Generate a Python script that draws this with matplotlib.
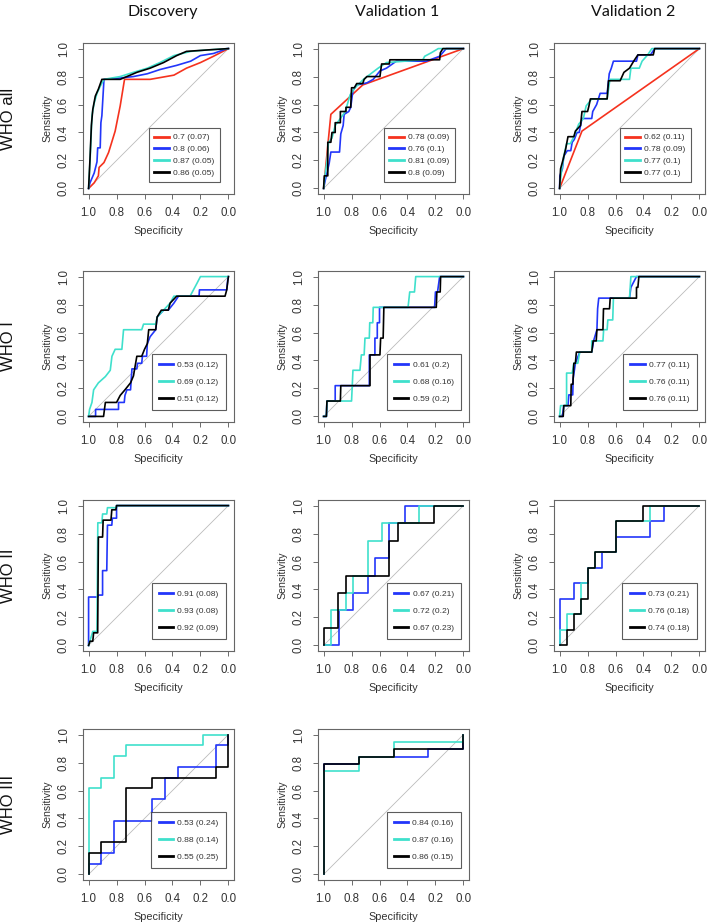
import matplotlib
matplotlib.use('Agg')
import matplotlib.pyplot as plt

plt.rcParams['font.family'] = ['Liberation Sans', 'DejaVu Sans']

columns = ['Discovery', 'Validation 1', 'Validation 2']
rows = ['WHO all', 'WHO I', 'WHO II', 'WHO III']

# each curve: (specificity, sensitivity) points
# --- WHO all ---
disc_all_red = [(1, 0), (0.96, 0.04), (0.93, 0.09), (0.925, 0.15), (0.89, 0.185), (0.857, 0.257), (0.81, 0.41),
                (0.774, 0.59), (0.743, 0.78), (0.56, 0.78), (0.39, 0.81), (0.30, 0.86), (0.20, 0.90), (0.107, 0.945), (0, 1)]
disc_all_blue = [(1, 0), (0.99, 0.04), (0.96, 0.11), (0.94, 0.19), (0.935, 0.29), (0.917, 0.29), (0.912, 0.47),
                 (0.905, 0.52), (0.89, 0.78), (0.77, 0.79), (0.68, 0.80), (0.58, 0.82), (0.49, 0.85), (0.37, 0.88),
                 (0.27, 0.91), (0.20, 0.95), (0.107, 0.965), (0.01, 1.0), (0, 1)]
disc_all_cyan = [(1, 0), (0.99, 0.19), (0.983, 0.35), (0.976, 0.52), (0.96, 0.61), (0.94, 0.68), (0.917, 0.73),
                 (0.89, 0.78), (0.774, 0.80), (0.68, 0.83), (0.58, 0.86), (0.49, 0.90), (0.39, 0.95), (0.27, 0.98),
                 (0.155, 0.99), (0, 1)]
disc_all_black = [(1, 0), (0.99, 0.21), (0.98, 0.45), (0.97, 0.565), (0.952, 0.66), (0.93, 0.71), (0.905, 0.78),
                  (0.774, 0.78), (0.655, 0.83), (0.56, 0.86), (0.464, 0.90), (0.37, 0.95), (0.30, 0.98), (0.155, 0.99), (0, 1)]

val1_all_red = [(1, 0), (0.948, 0.53), (0.72, 0.74), (0, 1)]
val1_all_blue = [(1, 0), (0.99, 0.05), (0.976, 0.11), (0.96, 0.18), (0.948, 0.26), (0.886, 0.26), (0.877, 0.39),
                 (0.86, 0.45), (0.853, 0.53), (0.82, 0.55), (0.806, 0.58), (0.79, 0.70), (0.763, 0.74), (0.69, 0.755),
                 (0.645, 0.78), (0.597, 0.84), (0.55, 0.86), (0.48, 0.91), (0.265, 0.91), (0.17, 0.945), (0.123, 1.0), (0, 1)]
val1_all_cyan = [(1, 0), (0.99, 0.09), (0.975, 0.2), (0.965, 0.33), (0.94, 0.36), (0.917, 0.45), (0.88, 0.5),
                 (0.845, 0.55), (0.81, 0.67), (0.775, 0.72), (0.715, 0.78), (0.61, 0.86), (0.55, 0.90), (0.29, 0.92),
                 (0.277, 0.945), (0.23, 0.97), (0.18, 1.0), (0, 1)]
val1_all_black = [(1, 0), (0.995, 0.09), (0.97, 0.09), (0.97, 0.33), (0.948, 0.33), (0.94, 0.40), (0.917, 0.40),
                  (0.917, 0.47), (0.88, 0.47), (0.88, 0.55), (0.84, 0.55), (0.84, 0.58), (0.806, 0.58), (0.80, 0.72),
                  (0.78, 0.72), (0.763, 0.75), (0.72, 0.75), (0.71, 0.78), (0.69, 0.80), (0.597, 0.80), (0.585, 0.89),
                  (0.53, 0.89), (0.526, 0.92), (0.17, 0.92), (0.165, 0.97), (0.147, 1.0), (0, 1)]

val2_all_red = [(1, 0), (0.84, 0.41), (0, 1)]
val2_all_blue = [(1, 0), (0.998, 0.09), (0.98, 0.14), (0.97, 0.23), (0.945, 0.27), (0.92, 0.27), (0.91, 0.33),
                 (0.895, 0.35), (0.875, 0.40), (0.86, 0.40), (0.84, 0.50), (0.77, 0.50), (0.763, 0.55), (0.735, 0.60),
                 (0.71, 0.68), (0.66, 0.68), (0.65, 0.77), (0.645, 0.82), (0.63, 0.86), (0.615, 0.91), (0.45, 0.91),
                 (0.44, 0.955), (0.35, 0.955), (0.32, 1.0), (0, 1)]
val2_all_cyan = [(1, 0), (0.988, 0.11), (0.97, 0.23), (0.95, 0.32), (0.923, 0.32), (0.898, 0.37), (0.863, 0.46),
                 (0.83, 0.50), (0.81, 0.59), (0.77, 0.64), (0.66, 0.64), (0.64, 0.78), (0.50, 0.78), (0.49, 0.86),
                 (0.43, 0.86), (0.41, 0.91), (0.37, 0.955), (0.34, 1.0), (0, 1)]
val2_all_black = [(1, 0), (0.993, 0.14), (0.974, 0.21), (0.957, 0.28), (0.94, 0.37), (0.898, 0.37), (0.887, 0.41),
                  (0.85, 0.45), (0.84, 0.55), (0.80, 0.55), (0.79, 0.59), (0.78, 0.64), (0.66, 0.64), (0.65, 0.77),
                  (0.567, 0.77), (0.54, 0.83), (0.50, 0.86), (0.47, 0.91), (0.44, 0.955), (0.33, 0.955), (0.32, 1.0), (0, 1)]

# --- WHO I ---
disc_1_blue = [(1, 0), (0.95, 0), (0.95, 0.05), (0.786, 0.05), (0.786, 0.1), (0.745, 0.1), (0.74, 0.15), (0.726, 0.19),
               (0.70, 0.19), (0.69, 0.34), (0.655, 0.34), (0.65, 0.38), (0.62, 0.38), (0.615, 0.43), (0.585, 0.43),
               (0.58, 0.52), (0.56, 0.57), (0.52, 0.62), (0.51, 0.71), (0.464, 0.76), (0.43, 0.76), (0.39, 0.81),
               (0.357, 0.86), (0.21, 0.86), (0.207, 0.905), (0.012, 0.905), (0.005, 0.976), (0, 1)]
disc_1_cyan = [(1, 0), (0.993, 0.05), (0.976, 0.1), (0.964, 0.19), (0.93, 0.24), (0.88, 0.285), (0.845, 0.33),
               (0.833, 0.43), (0.81, 0.48), (0.762, 0.48), (0.75, 0.62), (0.62, 0.62), (0.607, 0.66), (0.52, 0.66),
               (0.51, 0.71), (0.464, 0.76), (0.417, 0.81), (0.39, 0.86), (0.274, 0.86), (0.25, 0.905), (0.226, 0.95),
               (0.2, 1.0), (0, 1)]
disc_1_black = [(1, 0), (0.893, 0), (0.88, 0.1), (0.8, 0.1), (0.774, 0.15), (0.74, 0.19), (0.70, 0.24), (0.679, 0.29),
                (0.655, 0.43), (0.62, 0.43), (0.6, 0.48), (0.58, 0.52), (0.57, 0.62), (0.52, 0.62), (0.51, 0.71),
                (0.48, 0.76), (0.43, 0.76), (0.417, 0.81), (0.37, 0.86), (0.024, 0.86), (0.012, 0.905), (0, 1)]

val1_1_blue = [(1, 0), (0.98, 0), (0.976, 0.11), (0.917, 0.11), (0.917, 0.22), (0.673, 0.22), (0.673, 0.44),
               (0.633, 0.44), (0.633, 0.56), (0.616, 0.56), (0.616, 0.67), (0.6, 0.67), (0.6, 0.78), (0.206, 0.78),
               (0.2, 0.89), (0.185, 0.89), (0.17, 1.0), (0, 1)]
val1_1_cyan = [(1, 0), (0.98, 0), (0.976, 0.11), (0.80, 0.11), (0.79, 0.33), (0.74, 0.33), (0.73, 0.44), (0.71, 0.44),
               (0.704, 0.56), (0.673, 0.56), (0.67, 0.67), (0.648, 0.67), (0.645, 0.78), (0.396, 0.78), (0.384, 0.89),
               (0.35, 0.89), (0.341, 1.0), (0, 1)]
val1_1_black = [(1, 0), (0.98, 0), (0.976, 0.11), (0.88, 0.11), (0.877, 0.22), (0.668, 0.22), (0.668, 0.44),
                (0.597, 0.44), (0.592, 0.56), (0.574, 0.56), (0.569, 0.78), (0.194, 0.78), (0.19, 0.89), (0.166, 0.89),
                (0.163, 1.0), (0, 1)]

val2_1_blue = [(1, 0), (0.98, 0), (0.97, 0.077), (0.94, 0.077), (0.934, 0.154), (0.906, 0.154), (0.903, 0.27),
               (0.887, 0.38), (0.856, 0.46), (0.77, 0.46), (0.757, 0.54), (0.733, 0.62), (0.728, 0.77), (0.72, 0.846),
               (0.5, 0.846), (0.49, 0.923), (0.45, 1.0), (0, 1)]
val2_1_cyan = [(1, 0), (0.993, 0.077), (0.95, 0.077), (0.95, 0.31), (0.91, 0.31), (0.898, 0.38), (0.87, 0.38),
               (0.856, 0.46), (0.77, 0.46), (0.77, 0.54), (0.69, 0.54), (0.685, 0.62), (0.66, 0.62), (0.655, 0.69),
               (0.62, 0.69), (0.615, 0.846), (0.5, 0.846), (0.495, 0.923), (0.49, 1.0), (0, 1)]
val2_1_black = [(1, 0), (0.974, 0), (0.97, 0.077), (0.92, 0.077), (0.917, 0.23), (0.905, 0.23), (0.898, 0.38),
                (0.887, 0.38), (0.88, 0.46), (0.77, 0.46), (0.76, 0.54), (0.738, 0.54), (0.733, 0.62), (0.69, 0.62),
                (0.686, 0.77), (0.643, 0.77), (0.638, 0.846), (0.45, 0.846), (0.45, 0.923), (0.44, 0.923),
                (0.433, 1.0), (0, 1)]

# --- WHO II ---
disc_2_blue = [(1, 0), (1, 0.346), (0.936, 0.346), (0.93, 0.36), (0.9, 0.36), (0.9, 0.535), (0.87, 0.535),
               (0.865, 0.86), (0.834, 0.86), (0.83, 0.91), (0.8, 0.91), (0.8, 1.0), (0, 1)]
disc_2_cyan = [(1, 0), (0.988, 0.04), (0.97, 0.1), (0.94, 0.1), (0.934, 0.877), (0.905, 0.877), (0.9, 0.94),
               (0.87, 0.94), (0.865, 0.985), (0.8, 0.985), (0.8, 1.0), (0, 1)]
disc_2_black = [(1, 0), (0.99, 0.03), (0.97, 0.03), (0.964, 0.09), (0.935, 0.09), (0.93, 0.775), (0.9, 0.775),
                (0.896, 0.896), (0.84, 0.896), (0.834, 0.97), (0.805, 0.97), (0.8, 1.0), (0, 1)]

val1_2_blue = [(1, 0), (0.893, 0), (0.893, 0.25), (0.79, 0.25), (0.79, 0.375), (0.68, 0.375), (0.68, 0.5),
               (0.633, 0.5), (0.633, 0.625), (0.53, 0.625), (0.53, 0.875), (0.42, 0.875), (0.42, 1.0), (0, 1)]
val1_2_cyan = [(1, 0), (0.95, 0), (0.95, 0.25), (0.84, 0.25), (0.84, 0.375), (0.79, 0.375), (0.79, 0.5), (0.68, 0.5),
               (0.68, 0.75), (0.58, 0.75), (0.58, 0.875), (0.32, 0.875), (0.32, 1.0), (0, 1)]
val1_2_black = [(1, 0), (1, 0.125), (0.9, 0.125), (0.9, 0.375), (0.84, 0.375), (0.84, 0.5), (0.53, 0.5), (0.53, 0.75),
                (0.47, 0.75), (0.47, 0.875), (0.21, 0.875), (0.21, 1.0), (0, 1)]

val2_2_blue = [(1, 0), (1, 0.333), (0.9, 0.333), (0.9, 0.444), (0.8, 0.444), (0.8, 0.556), (0.7, 0.556), (0.7, 0.667),
               (0.6, 0.667), (0.6, 0.778), (0.35, 0.778), (0.35, 0.889), (0.25, 0.889), (0.25, 1.0), (0, 1)]
val2_2_cyan = [(1, 0), (1, 0.111), (0.95, 0.111), (0.95, 0.222), (0.85, 0.222), (0.85, 0.444), (0.8, 0.444),
               (0.8, 0.556), (0.75, 0.556), (0.75, 0.667), (0.6, 0.667), (0.6, 0.889), (0.35, 0.889), (0.35, 1.0), (0, 1)]
val2_2_black = [(1, 0), (0.95, 0), (0.95, 0.111), (0.9, 0.111), (0.9, 0.222), (0.85, 0.222), (0.85, 0.333),
                (0.8, 0.333), (0.8, 0.556), (0.75, 0.556), (0.75, 0.667), (0.6, 0.667), (0.6, 0.889), (0.4, 0.889),
                (0.4, 1.0), (0, 1)]

# --- WHO III ---
disc_3_blue = [(1, 0), (1, 0.077), (0.91, 0.077), (0.91, 0.154), (0.82, 0.154), (0.82, 0.385), (0.545, 0.385),
               (0.545, 0.538), (0.455, 0.538), (0.455, 0.69), (0.364, 0.69), (0.364, 0.77), (0.09, 0.77),
               (0.09, 0.923), (0, 0.923), (0, 1)]
disc_3_cyan = [(1, 0), (1, 0.615), (0.91, 0.615), (0.91, 0.69), (0.82, 0.69), (0.82, 0.846), (0.73, 0.846),
               (0.73, 0.923), (0.18, 0.923), (0.18, 1.0), (0, 1)]
disc_3_black = [(1, 0), (1, 0.154), (0.91, 0.154), (0.91, 0.23), (0.73, 0.23), (0.73, 0.615), (0.545, 0.615),
                (0.545, 0.69), (0.09, 0.69), (0.09, 0.77), (0, 0.77), (0, 1)]

val1_3_blue = [(1, 0), (1, 0.79), (0.75, 0.79), (0.75, 0.842), (0.25, 0.842), (0.25, 0.895), (0, 0.895), (0, 1)]
val1_3_cyan = [(1, 0), (1, 0.737), (0.75, 0.737), (0.75, 0.842), (0.5, 0.842), (0.5, 0.947), (0, 0.947), (0, 1)]
val1_3_black = [(1, 0), (1, 0.79), (0.75, 0.79), (0.75, 0.842), (0.5, 0.842), (0.5, 0.895), (0, 0.895), (0, 1)]

# AUC (SE) legend labels
auc_disc_all = ['0.7 (0.07)', '0.8 (0.06)', '0.87 (0.05)', '0.86 (0.05)']
auc_val1_all = ['0.78 (0.09)', '0.76 (0.1)', '0.81 (0.09)', '0.8 (0.09)']
auc_val2_all = ['0.62 (0.11)', '0.78 (0.09)', '0.77 (0.1)', '0.77 (0.1)']
auc_disc_1 = ['0.53 (0.12)', '0.69 (0.12)', '0.51 (0.12)']
auc_val1_1 = ['0.61 (0.2)', '0.68 (0.16)', '0.59 (0.2)']
auc_val2_1 = ['0.77 (0.11)', '0.76 (0.11)', '0.76 (0.11)']
auc_disc_2 = ['0.91 (0.08)', '0.93 (0.08)', '0.92 (0.09)']
auc_val1_2 = ['0.67 (0.21)', '0.72 (0.2)', '0.67 (0.23)']
auc_val2_2 = ['0.73 (0.21)', '0.76 (0.18)', '0.74 (0.18)']
auc_disc_3 = ['0.53 (0.24)', '0.88 (0.14)', '0.55 (0.25)']
auc_val1_3 = ['0.84 (0.16)', '0.87 (0.16)', '0.86 (0.15)']

RED, BLUE, CYAN, BLACK = '#F5321E', '#2236FA', '#3FE0CC', '#000000'

panels = {
    (0, 0): ([disc_all_red, disc_all_blue, disc_all_cyan, disc_all_black], [RED, BLUE, CYAN, BLACK], auc_disc_all),
    (0, 1): ([val1_all_red, val1_all_blue, val1_all_cyan, val1_all_black], [RED, BLUE, CYAN, BLACK], auc_val1_all),
    (0, 2): ([val2_all_red, val2_all_blue, val2_all_cyan, val2_all_black], [RED, BLUE, CYAN, BLACK], auc_val2_all),
    (1, 0): ([disc_1_blue, disc_1_cyan, disc_1_black], [BLUE, CYAN, BLACK], auc_disc_1),
    (1, 1): ([val1_1_blue, val1_1_cyan, val1_1_black], [BLUE, CYAN, BLACK], auc_val1_1),
    (1, 2): ([val2_1_blue, val2_1_cyan, val2_1_black], [BLUE, CYAN, BLACK], auc_val2_1),
    (2, 0): ([disc_2_blue, disc_2_cyan, disc_2_black], [BLUE, CYAN, BLACK], auc_disc_2),
    (2, 1): ([val1_2_blue, val1_2_cyan, val1_2_black], [BLUE, CYAN, BLACK], auc_val1_2),
    (2, 2): ([val2_2_blue, val2_2_cyan, val2_2_black], [BLUE, CYAN, BLACK], auc_val2_2),
    (3, 0): ([disc_3_blue, disc_3_cyan, disc_3_black], [BLUE, CYAN, BLACK], auc_disc_3),
    (3, 1): ([val1_3_blue, val1_3_cyan, val1_3_black], [BLUE, CYAN, BLACK], auc_val1_3),
}

W, H = 708, 924
fig = plt.figure(figsize=(W / 100, H / 100), dpi=100)

col_left = [83, 318, 554]
row_top = [43, 271, 500, 729]
box_w, box_h = 151, 151

for (r, c), (curves, colors, labels) in panels.items():
    ax = fig.add_axes([col_left[c] / W, 1 - (row_top[r] + box_h) / H, box_w / W, box_h / H])
    ax.plot([1, 0], [0, 1], color='#BBBBBB', lw=0.6, zorder=1)
    handles = []
    for pts, col, lab in zip(curves, colors, labels):
        sp = [p[0] for p in pts]
        se = [p[1] for p in pts]
        ax.plot(sp, se, color=col, lw=1.2, zorder=2)
        h, = ax.plot([], [], color=col, lw=2.0, label=lab)
        handles.append(h)
    ax.set_xlim(1.04, -0.04)
    ax.set_ylim(-0.04, 1.04)
    ticks = [0.0, 0.2, 0.4, 0.6, 0.8, 1.0]
    ax.set_xticks(ticks)
    ax.set_yticks(ticks)
    ax.set_xticklabels(['%.1f' % t for t in ticks])
    ax.set_yticklabels(['%.1f' % t for t in ticks], rotation=90, va='center')
    ax.tick_params(direction='out', length=3.5, width=0.6, colors='#555555', labelcolor='#333333',
                   labelsize=8.3, pad=6)
    for s in ax.spines.values():
        s.set_color('#666666')
        s.set_linewidth(0.8)
    ax.set_xlabel('Specificity', fontsize=7.8, color='#333333', labelpad=5)
    ax.set_ylabel('Sensitivity', fontsize=7.6, color='#333333', labelpad=4)
    if len(curves) == 4:
        leg = ax.legend(handles=handles, loc='lower right', bbox_to_anchor=(0.935, 0.05), fontsize=6.1,
                        frameon=True, fancybox=False, handlelength=1.7, handletextpad=0.5,
                        labelspacing=0.45, borderpad=0.65)
    else:
        leg = ax.legend(handles=handles, loc='lower right', bbox_to_anchor=(0.975, 0.05), fontsize=6.1,
                        frameon=True, fancybox=False, handlelength=1.7, handletextpad=0.5,
                        labelspacing=1.05, borderpad=0.85)
    leg.get_frame().set_edgecolor('#333333')
    leg.get_frame().set_linewidth(0.8)
    for t in leg.get_texts():
        t.set_color('#333333')

# column titles
for c, name in enumerate(columns):
    fig.text((col_left[c] + box_w / 2 + 4) / W, 1 - 12 / H, name, ha='center', va='center',
             fontsize=11.5, family=['Lato', 'DejaVu Sans'], color='#111111')

# row labels
for r, name in enumerate(rows):
    fig.text(9 / W, 1 - (row_top[r] + box_h / 2) / H, name, ha='center', va='center', rotation=90,
             fontsize=12, color='#111111')

fig.savefig('out.png', dpi=100)
